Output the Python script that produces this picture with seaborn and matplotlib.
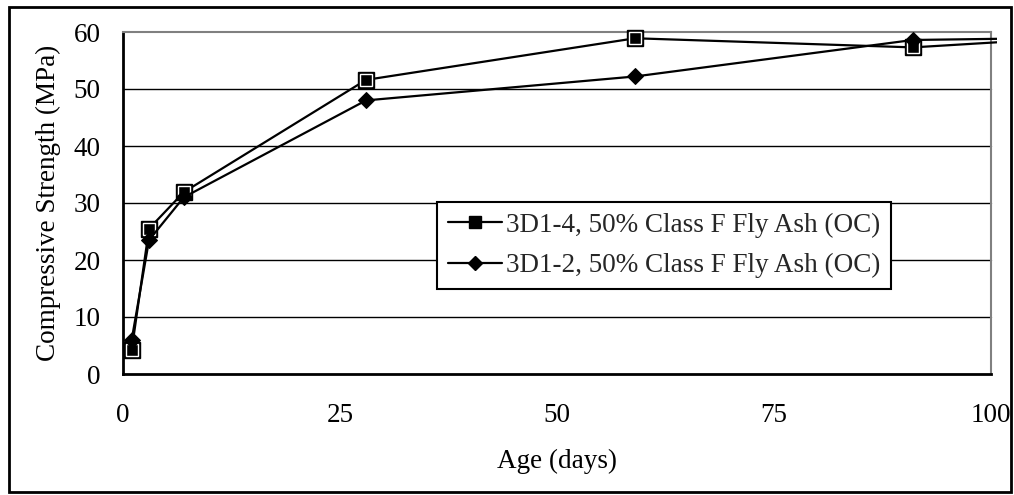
import matplotlib
matplotlib.use("Agg")
import matplotlib.pyplot as plt
import seaborn as sns
import pandas as pd
from matplotlib.patches import Rectangle
from matplotlib.transforms import Bbox, TransformedBbox
from matplotlib.lines import Line2D

# ---- data ----
age_days = [1, 3, 7, 28, 59, 91, 182]
strength_3d1_4 = [4.2, 25.5, 31.9, 51.6, 58.9, 57.3, 65.7]
strength_3d1_2 = [6.0, 23.5, 31.0, 48.0, 52.2, 58.6, 60.5]
series_labels = ["3D1-4, 50% Class F Fly Ash (OC)", "3D1-2, 50% Class F Fly Ash (OC)"]
x_ticks = [0, 25, 50, 75, 100]
y_ticks = [0, 10, 20, 30, 40, 50, 60]

sns.set_theme(style="white")
plt.rcParams['font.family'] = ['Liberation Serif', 'DejaVu Serif']

FS = 19.5
fig = plt.figure(figsize=(10.14, 4.95), dpi=100)
fig.patch.set_facecolor("white")
ax = fig.add_axes([123/1014, 1 - 374/495, (991-123)/1014, (374-32)/495])
ax.set_facecolor("white")

df1 = pd.DataFrame({"age": age_days, "strength": strength_3d1_4})
df2 = pd.DataFrame({"age": age_days, "strength": strength_3d1_2})

# gridlines
for yv in y_ticks[1:-1]:
    ax.axhline(yv, color="black", lw=1.0, zorder=1)

sns.lineplot(data=df1, x="age", y="strength", ax=ax, color="black", lw=1.6,
             marker="s", markersize=11, markerfacecolor="black",
             markeredgecolor="black", markeredgewidth=1.0, zorder=3,
             label=series_labels[0])
sns.lineplot(data=df2, x="age", y="strength", ax=ax, color="black", lw=1.6,
             marker="D", markersize=8.5, markerfacecolor="black",
             markeredgecolor="black", zorder=4, label=series_labels[1])
# inner white highlight on square markers (Excel style)
ax.plot(df1["age"], df1["strength"], ls="none", marker="s", markersize=8,
        markerfacecolor="black", markeredgecolor="white", markeredgewidth=1.0,
        zorder=3.5)

# extend clip region slightly to the right, as in the original
for ln in ax.get_lines():
    ln.set_clip_box(TransformedBbox(Bbox([[0.0, 0.0], [1.0 + 6/868, 1.0 + 8/342]]), ax.transAxes))

ax.set_xlim(0, 100)
ax.set_ylim(0, 60)
ax.set_xticks(x_ticks)
ax.set_yticks(y_ticks)
ax.tick_params(axis="both", labelsize=FS, colors="black", direction="out",
               length=6, width=1.5)
ax.tick_params(axis="x", pad=15)
ax.tick_params(axis="y", pad=10)
ax.set_xlabel("Age (days)", fontsize=FS, color="black", labelpad=15)
ax.set_ylabel("Compressive Strength (MPa)", fontsize=FS, color="black", labelpad=9)

for side in ["left", "bottom"]:
    ax.spines[side].set_color("black")
    ax.spines[side].set_linewidth(2)
for side in ["top", "right"]:
    ax.spines[side].set_color("#808080")
    ax.spines[side].set_linewidth(1.5)

h1 = Line2D([], [], color="black", lw=1.6, marker="s", markersize=8,
            markerfacecolor="black", markeredgecolor="black")
h2 = Line2D([], [], color="black", lw=1.6, marker="D", markersize=7,
            markerfacecolor="black", markeredgecolor="black")
leg = ax.legend([h1, h2], series_labels, loc="upper left",
                bbox_to_anchor=(0.362, 0.503), fontsize=FS, frameon=True,
                fancybox=False, edgecolor="black", framealpha=1,
                handlelength=2.0, borderpad=0.4, labelspacing=0.55,
                handletextpad=0.15, borderaxespad=0)
leg.get_frame().set_linewidth(1.5)

# outer figure frame
fig.add_artist(Rectangle((9/1014, 3/495), 1002/1014, 485/495, transform=fig.transFigure,
                         fill=False, edgecolor="black", lw=2))

fig.savefig("out.png", dpi=100, facecolor="white")
